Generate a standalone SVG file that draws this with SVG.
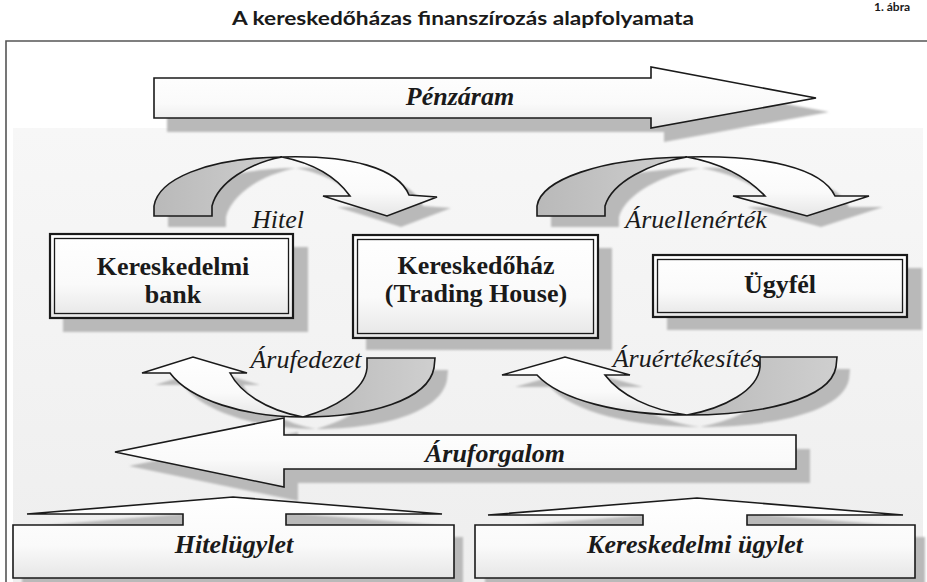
<svg xmlns="http://www.w3.org/2000/svg" width="927" height="582" viewBox="0 0 927 582">
  <defs>
    <linearGradient id="bg" x1="0" y1="0" x2="0" y2="1">
      <stop offset="0" stop-color="#f7f7f7"/>
      <stop offset="1" stop-color="#eeeeee"/>
    </linearGradient>
    <linearGradient id="wfill" x1="0" y1="0" x2="0" y2="1">
      <stop offset="0" stop-color="#ffffff"/>
      <stop offset="0.6" stop-color="#fafafa"/>
      <stop offset="1" stop-color="#e6e6e6"/>
    </linearGradient>
    <linearGradient id="gfill" x1="0" y1="0" x2="1" y2="0">
      <stop offset="0" stop-color="#b9b9b9"/>
      <stop offset="1" stop-color="#cfcfcf"/>
    </linearGradient>
    <filter id="blur" x="-10%" y="-10%" width="120%" height="120%">
      <feGaussianBlur stdDeviation="1.2"/>
    </filter>
  </defs>
  <style>
    .sh { fill: #b9b9b9; filter: url(#blur); }
    .wa { fill: url(#wfill); stroke: #1a1a1a; stroke-width: 1.6; stroke-linejoin: miter; }
    .ga { fill: url(#gfill); stroke: #1a1a1a; stroke-width: 1.6; }
    .boxo { fill: url(#wfill); stroke: #1a1a1a; stroke-width: 2.2; }
    .boxi { fill: none; stroke: #1a1a1a; stroke-width: 1.3; }
    .bt { font-family: "Liberation Serif", "Times New Roman", serif; font-weight: bold; font-size: 26px; fill: #1a1a1a; text-anchor: middle; }
    .bi { font-family: "Liberation Serif", "Times New Roman", serif; font-weight: bold; font-style: italic; font-size: 26px; fill: #1a1a1a; text-anchor: middle; }
    .it { font-family: "Liberation Serif", "Times New Roman", serif; font-style: italic; font-size: 26px; fill: #1a1a1a; text-anchor: middle; }
    .title { font-family: Lato, "Open Sans", "Liberation Sans", sans-serif; font-weight: bold; font-size: 18px; fill: #1a1a1a; text-anchor: middle; }
  </style>

  <rect x="0" y="0" width="927" height="582" fill="#ffffff"/>
  <text class="title" x="463" y="25" textLength="462" lengthAdjust="spacingAndGlyphs">A kereskedőházas finanszírozás alapfolyamata</text>
  <text x="874" y="11" font-family="Lato, 'Liberation Sans', sans-serif" font-weight="bold" font-size="12" fill="#1a1a1a">1. ábra</text>

  <!-- frame and background -->
  <rect x="13" y="128" width="910" height="454" fill="url(#bg)"/>
  <path d="M6,582 V41 H927" fill="none" stroke="#555555" stroke-width="1.6"/>

  <g id="connectors">
    <!-- Pénzáram arrow -->
    <g id="penzaram">
      <path class="sh" transform="translate(13,14)" d="M154,78 L651,78 L651,67 L816,98 L651,128 L651,118 L154,118 Z"/>
      <path class="wa" d="M154,78 L651,78 L651,67 L816,98 L651,128 L651,118 L154,118 Z"/>
      <text class="bi" x="460" y="105">Pénzáram</text>
    </g>

    <!-- Hitel curved arrow -->
    <g id="hitel">
      <g transform="translate(14,11)">
        <path class="sh" d="M154,216 L154,206 C158,180 205,158 282,157 C250,163 218,182 212,206 L212,216 Z"/>
        <path class="sh" d="M282,157 C350,155 398,168 409,195 L437,197 L387,216 L323,196 L350,196 C335,175 312,163 282,157 Z"/>
      </g>
      <path class="ga" d="M154,216 L154,206 C158,180 205,158 282,157 C250,163 218,182 212,206 L212,216 Z"/>
      <path class="wa" d="M282,157 C350,155 398,168 409,195 L437,197 L387,216 L323,196 L350,196 C335,175 312,163 282,157 Z"/>
      <text class="it" x="278" y="228">Hitel</text>
    </g>

    <!-- Áruellenérték curved arrow -->
    <g id="aruellenertek">
      <g transform="translate(14,11)">
        <path class="sh" d="M537,216 L537,206 C541,180 600,158 687,157 C650,163 612,182 605,206 L605,216 Z"/>
        <path class="sh" d="M687,157 C765,155 822,168 835,196 L869,196 L807,216 L733,196 L765,196 C745,175 720,163 687,157 Z"/>
      </g>
      <path class="ga" d="M537,216 L537,206 C541,180 600,158 687,157 C650,163 612,182 605,206 L605,216 Z"/>
      <path class="wa" d="M687,157 C765,155 822,168 835,196 L869,196 L807,216 L733,196 L765,196 C745,175 720,163 687,157 Z"/>
      <text class="it" x="696" y="228">Áruellenérték</text>
    </g>

    <!-- Árufedezet curved arrow -->
    <g id="arufedezet">
      <g transform="translate(13,12)">
        <path class="sh" d="M367,358 L435,358 L434,368 C428,400 370,417 303,417 C335,408 365,390 367,368 Z"/>
        <path class="sh" d="M303,417 C245,417 190,400 170,373 L142,373 L193,357 L247,373 L230,373 C240,392 265,410 303,417 Z"/>
      </g>
      <path class="ga" d="M367,358 L435,358 L434,368 C428,400 370,417 303,417 C335,408 365,390 367,368 Z"/>
      <path class="wa" d="M303,417 C245,417 190,400 170,373 L142,373 L193,357 L247,373 L230,373 C240,392 265,410 303,417 Z"/>
      <text class="it" x="306" y="368">Árufedezet</text>
    </g>

    <!-- Áruértékesítés curved arrow -->
    <g id="aruertekesites">
      <g transform="translate(13,12)">
        <path class="sh" d="M760,357 L837,357 L836,367 C830,400 760,415 687,415 C725,408 758,390 760,367 Z"/>
        <path class="sh" d="M687,415 C620,415 560,400 537,375 L502,375 L565,357 L630,375 L605,375 C620,395 650,410 687,415 Z"/>
      </g>
      <path class="ga" d="M760,357 L837,357 L836,367 C830,400 760,415 687,415 C725,408 758,390 760,367 Z"/>
      <path class="wa" d="M687,415 C620,415 560,400 537,375 L502,375 L565,357 L630,375 L605,375 C620,395 650,410 687,415 Z"/>
      <text class="it" x="687" y="367">Áruértékesítés</text>
    </g>

    <!-- Áruforgalom arrow -->
    <g id="aruforgalom">
      <path class="sh" transform="translate(14,14)" d="M796,435 L284,435 L284,418 L115,452 L284,487 L284,469 L796,469 Z"/>
      <path class="wa" d="M796,435 L284,435 L284,418 L115,452 L284,487 L284,469 L796,469 Z"/>
      <text class="bi" x="495" y="462">Áruforgalom</text>
    </g>
  </g>

  <!-- nodes -->
  <g id="kereskedelmi-bank">
    <rect class="sh" x="63" y="247" width="245" height="85"/>
    <rect class="boxo" x="50" y="234" width="243" height="84"/>
    <rect class="boxi" x="54.5" y="238.5" width="234" height="75"/>
    <text class="bt" x="173" y="275">Kereskedelmi</text>
    <text class="bt" x="173" y="303">bank</text>
  </g>

  <g id="kereskedohaz">
    <rect class="sh" x="366" y="248" width="246" height="102"/>
    <rect class="boxo" x="353" y="235" width="245" height="103"/>
    <rect class="boxi" x="357.5" y="239.5" width="236" height="94"/>
    <text class="bt" x="476" y="274">Kereskedőház</text>
    <text class="bt" x="476" y="302">(Trading House)</text>
  </g>

  <g id="ugyfel">
    <rect class="sh" x="667" y="268" width="255" height="62"/>
    <rect class="boxo" x="653" y="255" width="254" height="62"/>
    <rect class="boxi" x="657.5" y="259.5" width="245" height="53"/>
    <text class="bt" x="780" y="293">Ügyfél</text>
  </g>

  <g id="hitelugylet">
    <path class="sh" transform="translate(9,12)" d="M13,525 L183,525 L183,514 L27,514 L233,497 L442,514 L286,514 L286,525 L454,525 L454,578 L13,578 Z"/>
    <path class="wa" d="M13,525 L183,525 L183,514 L27,514 L233,497 L442,514 L286,514 L286,525 L454,525 L454,578 L13,578 Z"/>
    <text class="bi" x="234" y="553">Hitelügylet</text>
  </g>

  <g id="kereskedelmi-ugylet">
    <path class="sh" transform="translate(10,12)" d="M475,525 L643,525 L643,515 L488,515 L697,498 L903,515 L747,515 L747,525 L915,525 L915,578 L475,578 Z"/>
    <path class="wa" d="M475,525 L643,525 L643,515 L488,515 L697,498 L903,515 L747,515 L747,525 L915,525 L915,578 L475,578 Z"/>
    <text class="bi" x="695" y="553">Kereskedelmi ügylet</text>
  </g>
</svg>
